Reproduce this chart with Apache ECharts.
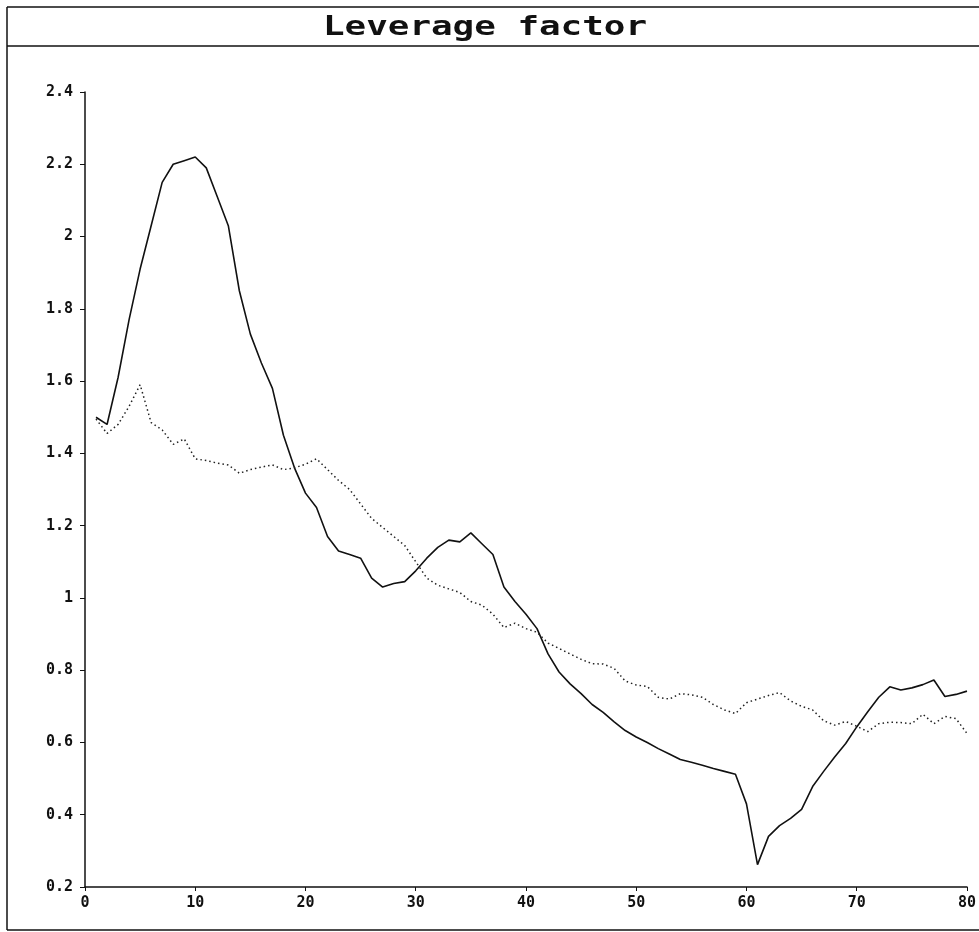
<!DOCTYPE html>
<html>
<head>
<meta charset="utf-8">
<title>Leverage factor</title>
<script src="https://cdn.jsdelivr.net/npm/echarts@6/dist/echarts.min.js"></script>
<style>
    html, body { margin: 0; padding: 0; background: #fff; }
    #chart { width: 979px; height: 932px; }
</style>
</head>
<body>
<div id="chart"></div>
<script>
// 横轴：1..80 期
const periods = Array.from({ length: 80 }, (_, i) => i + 1);

// 实线
const solidValues = [
    1.50, 1.48, 1.61, 1.77, 1.91, 2.03, 2.15, 2.20, 2.21, 2.22,
    2.19, 2.11, 2.03, 1.85, 1.73, 1.65, 1.58, 1.45, 1.36, 1.29,
    1.25, 1.17, 1.13, 1.12, 1.11, 1.055, 1.03, 1.04, 1.045, 1.075,
    1.11, 1.14, 1.16, 1.155, 1.18, 1.15, 1.12, 1.03, 0.99, 0.955,
    0.915, 0.845, 0.795, 0.762, 0.735, 0.705, 0.683, 0.657, 0.633, 0.615,
    0.60, 0.583, 0.568, 0.553, 0.545, 0.537, 0.528, 0.52, 0.512, 0.43,
    0.262, 0.34, 0.37, 0.39, 0.415, 0.478, 0.52, 0.56, 0.597, 0.643,
    0.685, 0.725, 0.754, 0.745, 0.751, 0.76, 0.773, 0.727, 0.733, 0.742
];

// 点线
const dottedValues = [
    1.495, 1.455, 1.48, 1.53, 1.59, 1.485, 1.465, 1.425, 1.44, 1.385,
    1.38, 1.373, 1.368, 1.345, 1.355, 1.362, 1.368, 1.355, 1.36, 1.37,
    1.385, 1.355, 1.325, 1.30, 1.26, 1.22, 1.195, 1.17, 1.145, 1.10,
    1.055, 1.035, 1.025, 1.015, 0.99, 0.98, 0.955, 0.918, 0.93, 0.915,
    0.905, 0.875, 0.86, 0.845, 0.83, 0.818, 0.817, 0.805, 0.77, 0.759,
    0.755, 0.725, 0.72, 0.735, 0.732, 0.725, 0.705, 0.69, 0.68, 0.71,
    0.72, 0.73, 0.738, 0.715, 0.70, 0.69, 0.66, 0.648, 0.658, 0.645,
    0.63, 0.652, 0.656, 0.655, 0.652, 0.678, 0.652, 0.672, 0.666, 0.625
];

const titleText = 'Leverage factor';
const monoFont = '"DejaVu Sans Mono", "Liberation Mono", monospace';

const toPairs = (xs, ys) => xs.map((x, i) => [x, ys[i]]);

const chart = echarts.init(document.getElementById('chart'));

chart.setOption({
    backgroundColor: '#fff',
    animation: false,
    grid: { left: 85, right: 10, top: 92, bottom: 45 },
    graphic: [
        // 外框与标题栏
        { type: 'line', shape: { x1: 7, y1: 7, x2: 979, y2: 7 }, style: { stroke: '#111', lineWidth: 1.5 } },
        { type: 'line', shape: { x1: 7, y1: 46, x2: 979, y2: 46 }, style: { stroke: '#111', lineWidth: 1.5 } },
        { type: 'line', shape: { x1: 7, y1: 7, x2: 7, y2: 930 }, style: { stroke: '#111', lineWidth: 1.5 } },
        { type: 'line', shape: { x1: 7, y1: 930, x2: 979, y2: 930 }, style: { stroke: '#111', lineWidth: 1.5 } },
        {
            type: 'text',
            x: 485, y: 28,
            scaleX: 1.38,
            style: {
                text: titleText,
                font: 'bold 26px ' + monoFont,
                fill: '#111',
                align: 'center',
                verticalAlign: 'middle'
            }
        }
    ],
    xAxis: {
        type: 'value',
        min: 0,
        max: 80,
        interval: 10,
        splitLine: { show: false },
        axisLine: { lineStyle: { color: '#111', width: 1.5 } },
        axisTick: { length: 4, lineStyle: { color: '#111' } },
        axisLabel: { color: '#111', fontFamily: monoFont, fontSize: 15, fontWeight: 'bold', margin: 9 }
    },
    yAxis: {
        type: 'value',
        min: 0.2,
        max: 2.4,
        interval: 0.2,
        splitLine: { show: false },
        axisLine: { show: true, lineStyle: { color: '#111', width: 1.5 } },
        axisTick: { show: true, length: 5, lineStyle: { color: '#111' } },
        axisLabel: { color: '#111', fontFamily: monoFont, fontSize: 15, fontWeight: 'bold', margin: 12 }
    },
    series: [
        {
            type: 'line',
            data: toPairs(periods, solidValues),
            symbol: 'none',
            lineStyle: { color: '#111', width: 1.6 }
        },
        {
            type: 'line',
            data: toPairs(periods, dottedValues),
            symbol: 'none',
            lineStyle: { color: '#222', width: 1.5, type: [1.5, 3] }
        }
    ]
});

window.addEventListener('resize', () => chart.resize());
</script>
</body>
</html>
